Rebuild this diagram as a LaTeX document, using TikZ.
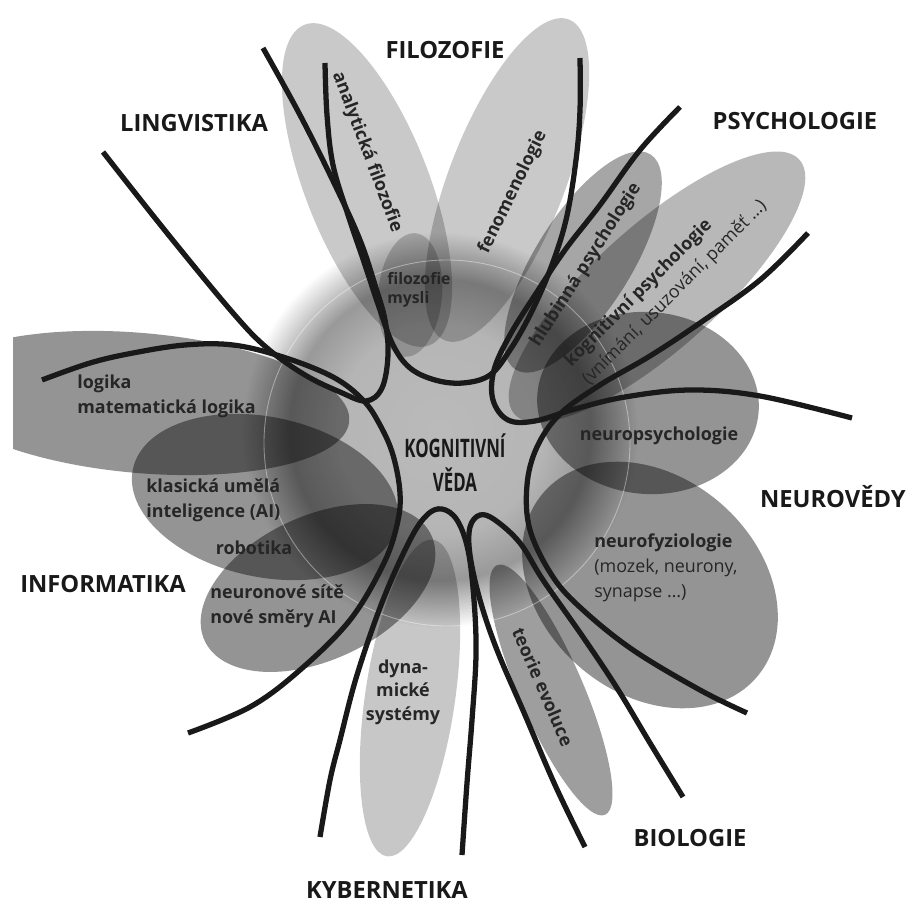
\documentclass[tikz,border=0pt]{standalone}
\usepackage{fontspec}
\setmainfont{Open Sans}
\pgfdeclareradialshading{coreshade}{\pgfpoint{0bp}{0bp}}{%
	color(0bp)=(black!27); color(13bp)=(black!29); color(19bp)=(black!40); color(25bp)=(white); color(50bp)=(white)}
\begin{document}
\begin{tikzpicture}[x=0.02cm, y=-0.02cm]
	\tikzstyle{petal}=[fill=black, draw=none]
	\tikzstyle{border}=[draw=black!90, line width=3pt]
	\tikzstyle{discipline}=[inner sep=0pt, text=black!90, font=\fontsize{13.5}{16}\selectfont\bfseries]
	\tikzstyle{field}=[inner sep=0pt, text=black!85, align=left, font=\fontsize{10.2}{14.2}\selectfont\bfseries]
	\newcommand\Tension{0.6}

	\useasboundingbox (0,0) rectangle (907,902);

	% core of the flower
	\shade[shading=coreshade] (440,430) circle [radius=198];

	% petals: x/y/angle/long radius/short radius/opacity
	\foreach \cx/\cy/\ang/\rx/\ry/\op in {367/185/111.3/172/62/0.21, 507/180/68.9/172/58/0.21,
		410/295/85/62/32/0.2, 583/262/57.9/127/48/0.35, 657/287/41.8/191/62/0.28,
		648/403/-5/111/91/0.42, 650/585/-41/141/108/0.42, 551/690/113.4/136/32/0.38,
		410/698/81.7/160/45/0.22, 318/588/25/125/72/0.42, 265/497/-12/135/80/0.42}
	{
		\fill [petal, fill opacity=\op, shift={(\cx,\cy)}, rotate=\ang] (0,0) ellipse [x radius=\rx, y radius=\ry];
	}
	\begin{scope}
		\clip (13,300) rectangle (420,520);
		\fill [petal, fill opacity=0.42, shift={(140,403)}, rotate=-5] (0,0) ellipse [x radius=210, y radius=70];
	\end{scope}

	\draw [white, opacity=0.4, line width=0.5pt] (447,443) circle [radius=183];

	% borders between the sciences
	\draw [border] plot [smooth, tension=\Tension] coordinates {(103,152) (167,233) (233,313) (267,348) (305,375) (340,392) (366,401) (382,388) (388,355) (385,320) (375,285) (360,240) (335,185) (300,115) (263,48)};
	\draw [border] plot [smooth, tension=\Tension] coordinates {(325,63) (327,115) (333,165) (348,215) (364,262) (379,307) (393,345) (410,368) (435,380) (463,383) (490,375) (510,350) (530,315) (550,270) (566,220) (576,160) (580,110) (580,58)};
	\draw [border] plot [smooth, tension=\Tension] coordinates {(680,107) (640,150) (600,205) (565,250) (535,295) (510,335) (494,370) (493,400) (508,420) (535,421) (575,409) (625,397) (690,390) (760,396) (852,418)};
	\draw [border] plot [smooth, tension=\Tension] coordinates {(808,233) (760,280) (700,323) (650,356) (600,385) (560,414) (537,447) (527,485) (530,530) (553,577) (583,610) (633,650) (700,690) (747,713)};
	\draw [border] plot [smooth, tension=\Tension] coordinates {(585,847) (555,785) (525,715) (497,650) (480,600) (470,555) (470,527) (480,515) (495,520) (520,543) (543,580) (583,637) (617,688) (650,743) (683,797)};
	\draw [border] plot [smooth, tension=\Tension] coordinates {(320,837) (330,780) (340,740) (357,675) (383,600) (410,540) (427,515) (442,509) (457,520) (468,550) (474,600) (476,655) (472,720) (467,783) (462,855)};
	\draw [border] plot [smooth, tension=\Tension] coordinates {(42,380) (90,363) (133,353) (185,345) (233,345) (283,357) (333,377) (363,400) (380,425) (393,455) (400,493) (397,525) (383,565) (350,620) (300,670) (250,707) (188,733)};

	% sciences
	\node [discipline] (filozofie) at (445,50) {FILOZOFIE};
	\node [discipline] (lingvistika) at (194,123) {LINGVISTIKA};
	\node [discipline] (psychologie) at (795,121) {PSYCHOLOGIE};
	\node [discipline, anchor=east] (neurovedy) at (906,497) {NEUROVĚDY};
	\node [discipline] (biologie) at (690,838) {BIOLOGIE};
	\node [discipline] (kybernetika) at (387,890) {KYBERNETIKA};
	\node [discipline] (informatika) at (103,584) {INFORMATIKA};
	\node [discipline, align=center, font=\fontsize{14.5}{19.3}\selectfont\bfseries] (veda) at (455,463)
		{\scalebox{0.66}[1]{KOGNITIVNÍ}\\\scalebox{0.66}[1]{VĚDA}};

	% fields inside the petals
	\node [field, rotate=-69.4] (analyticka) at (367,152) {analytická filozofie};
	\node [field, rotate=64] (fenomenologie) at (513,192) {fenomenologie};
	\node [field, anchor=west, font=\fontsize{9}{10.8}\selectfont\bfseries] (mysl) at (387,290) {filozofie\\mysli};
	\node [field, rotate=57.4] (hlubinna) at (586,265) {hlubinná psychologie};
	\node [field, rotate=45] (kognitivni) at (666,284) {kognitivní psychologie\\{\mdseries (vnímání, usuzování, paměť …)}};
	\node [field] (neuropsych) at (659,436) {neuropsychologie};
	\node [field, anchor=west] (neurofyz) at (594,568) {neurofyziologie\\{\mdseries (mozek, neurony,}\\{\mdseries synapse …)}};
	\node [field, rotate=-66.6] (evoluce) at (543,687) {teorie evoluce};
	\node [field, align=center, font=\fontsize{10.2}{13.4}\selectfont\bfseries] (dynamicke) at (403,692) {dyna-\\mické\\systémy};
	\node [field, anchor=west] (site) at (210,606) {neuronové sítě\\nové směry AI};
	\node [field] (robotika) at (254,548) {robotika};
	\node [field, anchor=west] (klasicka) at (146,500) {klasická umělá\\inteligence (AI)};
	\node [field, anchor=west] (logika) at (77,396) {logika\\matematická logika};
\end{tikzpicture}
\end{document}
